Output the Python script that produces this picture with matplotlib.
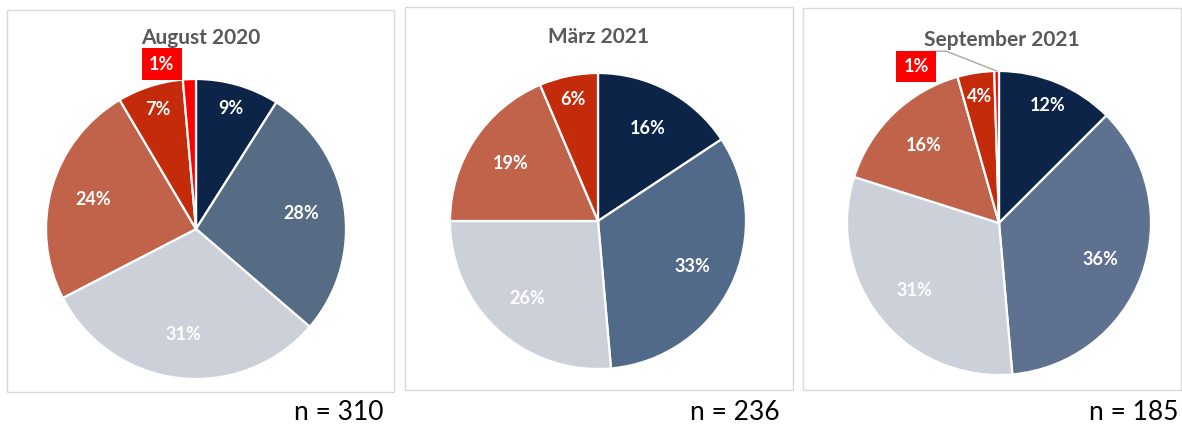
import matplotlib
matplotlib.use("Agg")
import matplotlib.pyplot as plt
import numpy as np
from matplotlib.patches import Rectangle

# ---- data ----
titles = ["August 2020", "März 2021", "September 2021"]
n_labels = ["n = 310", "n = 236", "n = 185"]
aug_values = [9.0, 27.3, 31.1, 24.1, 7.1, 1.4]
mar_values = [15.7, 32.9, 26.4, 18.6, 6.4]
sep_values = [12.5, 36.1, 31.3, 15.7, 3.9, 0.5]
aug_labels = ["9%", "28%", "31%", "24%", "7%", "1%"]
mar_labels = ["16%", "33%", "26%", "19%", "6%"]
sep_labels = ["12%", "36%", "31%", "16%", "4%", "1%"]

# ---- style ----
W, H = 1182, 430
colors_aug = ["#0b2447", "#566b84", "#cbd0d9", "#c0634a", "#c42b0a", "#ff0000"]
colors_mar = ["#0b2447", "#526a8a", "#cbd0d9", "#c0634a", "#c42b0a"]
colors_sep = ["#0b2447", "#5f7190", "#cbd0d9", "#c0634a", "#c42b0a", "#ff0000"]
FONT = "Lato"

panels = [
    dict(vals=aug_values, labs=aug_labels, cols=colors_aug, center=(196, 229), r=150,
         box=(7, 10, 394, 392), title_xy=(201, 38), n_right=383, callout=(-0.227, 1.10), leader=False),
    dict(vals=mar_values, labs=mar_labels, cols=colors_mar, center=(598, 221), r=148,
         box=(405, 7, 793, 390), title_xy=(599, 37), n_right=780, callout=None, leader=False),
    dict(vals=sep_values, labs=sep_labels, cols=colors_sep, center=(999, 223), r=152,
         box=(803, 8, 1181, 390), title_xy=(1002, 40), n_right=1178, callout=(-0.546, 1.03), leader=True),
]

fig = plt.figure(figsize=(W / 100, H / 100), dpi=100)
fig.patch.set_facecolor("white")

def fx(x):
    return x / W

def fy(y):
    return 1 - y / H

for i, p in enumerate(panels):
    x0, y0, x1, y1 = p["box"]
    fig.patches.append(Rectangle((fx(x0), fy(y1)), (x1 - x0) / W, (y1 - y0) / H,
                                 transform=fig.transFigure, fill=False,
                                 edgecolor="#d9d9d9", linewidth=1.0))
    cx, cy = p["center"]
    r = p["r"]
    ax = fig.add_axes([fx(cx - r), fy(cy + r), 2 * r / W, 2 * r / H])
    wedges, _ = ax.pie(p["vals"], colors=p["cols"], startangle=90, counterclock=False,
                       radius=1.0, wedgeprops=dict(edgecolor="white", linewidth=1.6))
    ax.set_xlim(-1, 1)
    ax.set_ylim(-1, 1)
    ax.set_aspect("auto")
    ax.axis("off")
    total = sum(p["vals"])
    cum = 0.0
    for j, (v, lab) in enumerate(zip(p["vals"], p["labs"])):
        frac = v / total
        mid = cum + frac / 2
        cum += frac
        ang = np.deg2rad(90 - mid * 360)
        if frac < 0.02:
            bx, by = p["callout"]
            ax.text(bx, by, lab, ha="center", va="center", color="white",
                    fontsize=13, fontweight="bold", family=FONT,
                    bbox=dict(boxstyle="square,pad=0.4", facecolor="#ff0000", edgecolor="none"))
            if p["leader"]:
                ax.plot([bx + 0.12, bx + 0.2, np.cos(ang) * 1.0],
                        [by + 0.1, by + 0.1, np.sin(ang) * 1.0],
                        color="#a6a6a6", linewidth=1.0, clip_on=False)
            continue
        rd = 0.84 if frac < 0.13 else 0.71
        ax.text(np.cos(ang) * rd, np.sin(ang) * rd, lab, ha="center", va="center",
                color="white", fontsize=13, fontweight="bold", family=FONT)
    fig.text(fx(p["title_xy"][0]), fy(p["title_xy"][1]), titles[i], ha="center", va="center",
             color="#595959", fontsize=15, fontweight="bold", family=FONT)
    fig.text(fx(p["n_right"]), fy(412), n_labels[i], ha="right", va="center",
             color="black", fontsize=19, family=FONT)

fig.savefig("out.png", dpi=100)
